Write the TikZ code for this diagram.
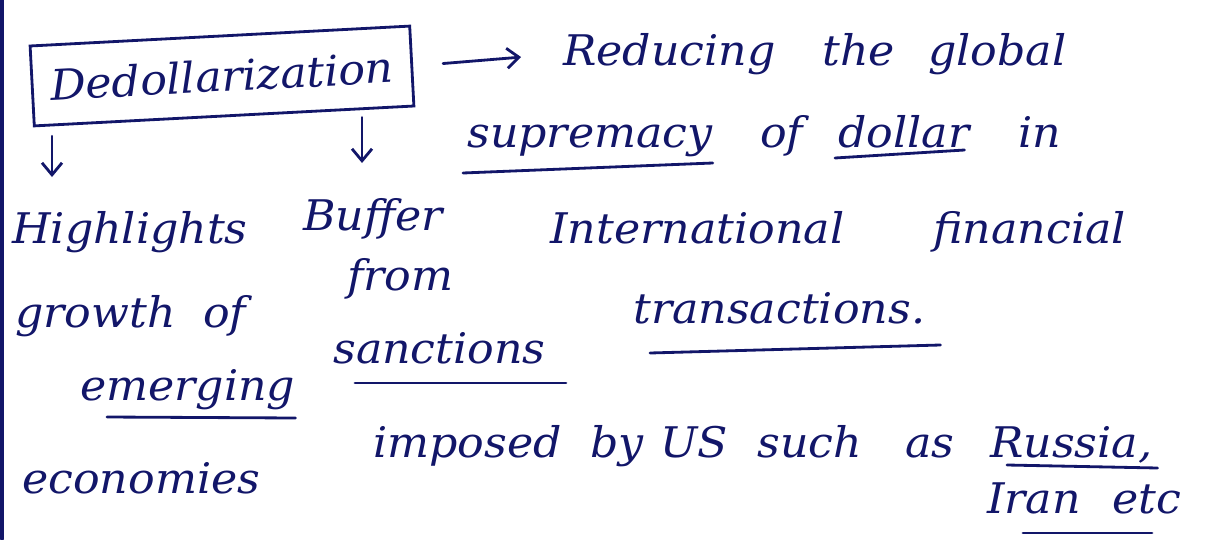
\documentclass[tikz,border=0pt]{standalone}
\usepackage{fontspec}
\usepackage{tikz}
\usetikzlibrary{arrows.meta, calc, positioning}
\newfontfamily\handfont[FakeStretch=1.05]{DejaVu Serif}
\definecolor{ink}{RGB}{18,22,105}

\begin{document}
\begin{tikzpicture}[x=0.025cm, y=-0.025cm,
		note/.style={ink, font=\handfont\itshape\fontsize{30}{36}\selectfont, inner sep=0pt, anchor=base west},
		pen/.style={ink, line width=2pt, line cap=round},
		arr/.style={pen, -{Straight Barb[length=3mm,width=5mm]}}]
				\useasboundingbox (0,0) rectangle (1215,539);
				\draw[pen, line width=2.2pt] (2,0) -- (2,539);
				
				%--------------------------------------------------------------------
				\node(title) [note, anchor=center, draw, line width=2pt, rotate=3, minimum width=9.5cm, minimum height=2cm] at (222,76) {Dedollarization};
				
				\node(reducing) [note] at (563,65) {Reducing};
				\node(the) [note] at (822,65) {the};
				\node(global) [note] at (928,65) {global};
				\node(supremacy) [note] at (467,147) {supremacy};
				\node(of) [note] at (760,147) {of};
				\node(dollar) [note] at (838,147) {dollar};
				\node(in) [note] at (1018,147) {in};
				\node(intl) [note] at (550,243) {International};
				\node(financial) [note] at (933,243) {financial};
				\node(transactions) [note] at (633,323) {transactions.};
				
				%--------------------------------------------------------------------
				\node(highlights) [note] at (12,243) {Highlights};
				\node(growth) [note] at (15,327) {growth};
				\node(of2) [note] at (203,327) {of};
				\node(emerging) [note] at (80,400) {emerging};
				\node(economies) [note] at (22,493) {economies};
				
				%--------------------------------------------------------------------
				\node(buffer) [note] at (303,230) {Buffer};
				\node(from) [note] at (347,290) {from};
				\node(sanctions) [note] at (333,363) {sanctions};
				\node(imposed) [note] at (373,457) {imposed};
				\node(by) [note] at (590,457) {by};
				\node(us) [note] at (660,457) {US};
				\node(such) [note] at (757,457) {such};
				\node(as) [note] at (905,457) {as};
				\node(russia) [note] at (990,457) {Russia,};
				\node(iran) [note] at (987,513) {Iran};
				\node(etc) [note] at (1112,513) {etc};
				
				%--------------------------------------------------------------------
				\coordinate (hl) at (52,177);
				\coordinate (bf) at (362,163);
				\draw[arr, shorten <=0.75cm, shorten >=1.05cm] (title.east) -- (reducing.west);
				\draw[arr, shorten <=0.22cm] (hl |- title.south west) -- (hl);
				\draw[arr] (bf |- title.south) -- (bf);
				
				% underlines
				\draw[pen] ([shift={(-4,26)}]supremacy.base west) -- ([shift={(0,16)}]supremacy.base east);
				\draw[pen] ([shift={(-3,11)}]dollar.base west) -- ([shift={(-5,3)}]dollar.base east);
				\draw[pen] ([shift={(17,30)}]transactions.base west) -- ([shift={(15,22)}]transactions.base east);
				\draw[pen] ([shift={(27,17)}]emerging.base west) -- ([shift={(0,18)}]emerging.base east);
				\draw[pen] ([shift={(22,20)}]sanctions.base west) -- ([shift={(20,20)}]sanctions.base east);
				\draw[pen] ([shift={(17,8)}]russia.base west) -- ([shift={(5,11)}]russia.base east);
				\draw[pen] ([shift={(36,20)}]iran.base west) -- ([shift={(40,20)}]etc.base west);
\end{tikzpicture}
\end{document}
